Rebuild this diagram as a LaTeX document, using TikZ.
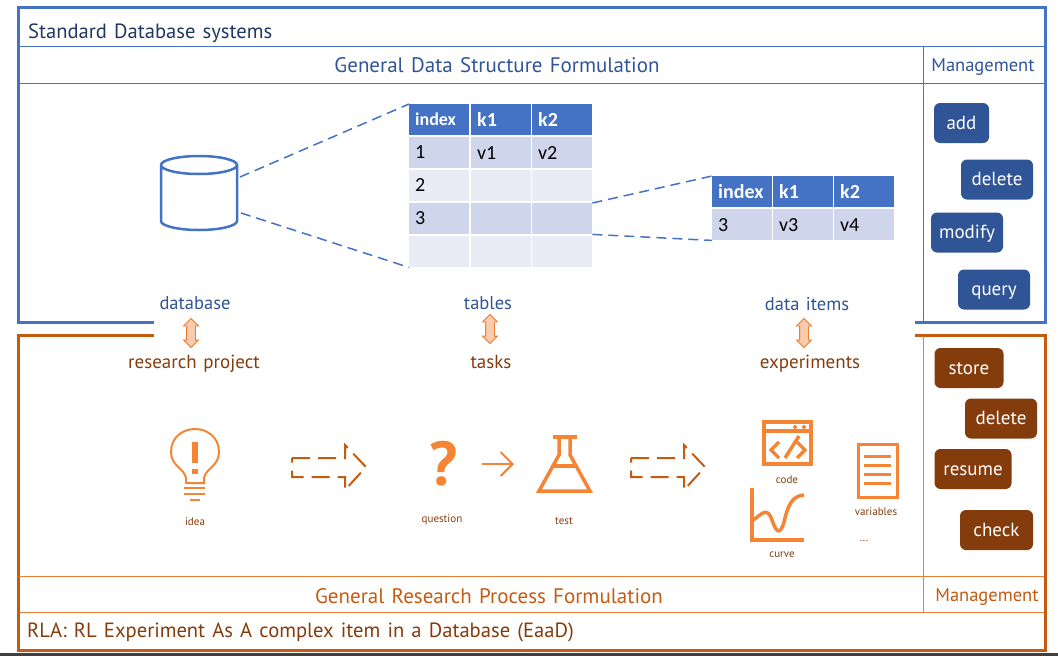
\documentclass[tikz,border=0pt]{standalone}
\usepackage{fontspec}
\setmainfont{PT Sans}[WordSpace=1.3]
\newfontfamily\cellfont{Carlito}
\usetikzlibrary{
	shapes.arrows,
	arrows.meta}
\definecolor{dbblue}{HTML}{4472C4}
\definecolor{dbnavy}{HTML}{2F5597}
\definecolor{dbdark}{HTML}{1F3864}
\definecolor{cellhi}{HTML}{CFD5EA}
\definecolor{celllo}{HTML}{E9EBF5}
\definecolor{rlrust}{HTML}{C55A11}
\definecolor{rlbrown}{HTML}{843C0C}
\definecolor{rlicon}{HTML}{F58534}
\definecolor{rlthin}{HTML}{ED7D31}
\tikzset{
    hdcell/.style={anchor=north west,fill=dbblue,text=white,font=\cellfont\bfseries\fontsize{20}{20}\selectfont,text width=48pt,inner xsep=6pt,inner ysep=0pt,minimum height=31pt},
    hicell/.style={anchor=north west,fill=cellhi,text=black,font=\cellfont\fontsize{20}{20}\selectfont,text width=48pt,inner xsep=6pt,inner ysep=0pt,minimum height=31pt},
    locell/.style={hicell,fill=celllo},
    dbbtn/.style={fill=dbnavy,text=white,rounded corners=6pt,font=\fontsize{19}{19}\selectfont,inner sep=0pt,text height=14pt,text depth=2pt,minimum height=40pt},
    rlbtn/.style={dbbtn,fill=rlbrown},
    dbtext/.style={text=dbnavy,font=\fontsize{18.5}{19}\selectfont,inner sep=0pt},
    rltext/.style={text=rlbrown,font=\fontsize{19}{19}\selectfont,inner sep=0pt},
    bigtext/.style={font=\fontsize{21}{21}\selectfont,inner sep=0pt},
    smalltext/.style={text=rlbrown,font=\fontsize{11}{11}\selectfont,inner sep=0pt},
    swaparrow/.style={double arrow,rotate=90,draw=rlthin,fill=rlthin!40,line width=.8pt,inner xsep=0pt,inner ysep=0pt,text height=8pt,text depth=0pt,minimum height=29pt,double arrow head extend=3pt},
    dashline/.style={dbblue,line width=1.5pt,dash pattern=on 10pt off 6pt},
    blockarrow/.style={rlrust,line width=2pt,dash pattern=on 18pt off 8pt,line join=miter},
    icon/.style={rlicon,line width=3.5pt}
}
\begin{document}
\begin{tikzpicture}[x=1pt,y=-1pt]
    \useasboundingbox (0,0) rectangle (1058,656);
    \fill [black!75] (0,653) rectangle (1058,656);

    % upper frame
    \draw [dbblue,line width=3pt] (154,322) -- (18,322) -- (18,7) -- (1045,7) -- (1045,322) -- (915,322);
    \draw [dbblue,line width=1pt] (19,46) -- (1044,46);
    \draw [dbblue,line width=1pt] (19,83) -- (1044,83);
    \draw [dbblue,line width=1pt] (923,46) -- (923,322);

    % lower frame
    \draw [rlrust,line width=3pt] (154,335) -- (18,335) -- (18,650) -- (1045,650) -- (1045,335) -- (915,335);
    \draw [rlthin,line width=1pt] (19,576) -- (1044,576);
    \draw [rlthin,line width=1pt] (19,612) -- (1044,612);
    \draw [rlthin,line width=1pt] (923,336) -- (923,612);

    \node (T0) [bigtext,font=\fontsize{20.6}{21}\selectfont,text=dbdark,anchor=west] at (28,33) {Standard Database systems};
    \node (T1) [bigtext,text=dbnavy] at (497,65) {General Data Structure Formulation};
    \node (M1) [dbtext] at (983,67) {Management};
    \node (T2) [bigtext,text=rlrust] at (489,596) {General Research Process Formulation};
    \node (M2) [text=rlrust,font=\fontsize{18.5}{19}\selectfont,inner sep=0pt] at (987,597) {Management};
    \node (T3) [bigtext,font=\fontsize{20.6}{21}\selectfont,text=rlbrown,anchor=west] at (27,632) {RLA: RL Experiment As A complex item in a Database (EaaD)};

    % database and tables
    \draw [dbblue,line width=2.5pt] (161,165) arc (180:0:38 and 9) arc (0:-180:38 and 9) -- (161,221) arc (180:0:38 and 9) -- (237,165);
    \coordinate (DB1) at (240,177);
    \coordinate (DB2) at (241,213);

    \node (A0) [hdcell,font=\cellfont\bfseries\fontsize{18}{18}\selectfont] at (409,104) {index};
    \node (A1) [hdcell] at (471,104) {k1};
    \node (A2) [hdcell] at (532,104) {k2};
    \node (B0) [hicell] at (409,137) {\raisebox{2pt}{1}};
    \node (B1) [hicell] at (471,137) {v1};
    \node (B2) [hicell] at (532,137) {v2};
    \node (C0) [locell] at (409,170) {\raisebox{2pt}{2}};
    \node (C1) [locell] at (471,170) {};
    \node (C2) [locell] at (532,170) {};
    \node (D0) [hicell] at (409,203) {\raisebox{2pt}{3}};
    \node (D1) [hicell] at (471,203) {};
    \node (D2) [hicell] at (532,203) {};
    \node (E0) [locell] at (409,236) {};
    \node (E1) [locell] at (471,236) {};
    \node (E2) [locell] at (532,236) {};

    \node (F0) [hdcell] at (712,176) {index};
    \node (F1) [hdcell] at (773,176) {k1};
    \node (F2) [hdcell] at (834,176) {k2};
    \node (G0) [hicell] at (712,209) {3};
    \node (G1) [hicell] at (773,209) {v3};
    \node (G2) [hicell] at (834,209) {v4};

    \draw [dashline] (DB1) to (A0.north west);
    \draw [dashline] (DB2) to (E0.south west);
    \draw [dashline] (D2.north east) to (F0.north west);
    \draw [dashline] (D2.south east) to (G0.south west);

    % buttons
    \node (add) [dbbtn,minimum width=55pt] at (961.5,123) {add};
    \node (del1) [dbbtn,minimum width=72pt] at (997,179.5) {delete};
    \node (mod) [dbbtn,minimum width=72pt] at (967,232.5) {modify};
    \node (qry) [dbbtn,minimum width=72pt] at (994,289.5) {query};
    \node (sto) [rlbtn,minimum width=69pt] at (969,368) {store};
    \node (del2) [rlbtn,minimum width=72pt] at (1001,418.5) {delete};
    \node (res) [rlbtn,minimum width=77pt] at (973,469) {resume};
    \node (chk) [rlbtn,minimum width=73pt] at (996.5,530) {check};

    % names on both sides
    \node (L1) [dbtext] at (195,303) {database};
    \node (L2) [dbtext] at (488,303) {tables};
    \node (L3) [dbtext] at (807,304) {data items};
    \node (S1) [swaparrow] at (191,333) {};
    \node (S2) [swaparrow] at (490,329) {};
    \node (S3) [swaparrow] at (804,333) {};
    \node (R1) [rltext] at (194,364) {research project};
    \node (R2) [rltext] at (491,362) {tasks};
    \node (R3) [rltext] at (810,364) {experiments};

    % idea
    \draw [icon,line width=2pt] (186,483) -- (186,478) .. controls (184,468) and (171,466) .. (171,452) .. controls (171,437) and (183,429) .. (195,429) .. controls (207,429) and (219,437) .. (219,452) .. controls (219,466) and (206,468) .. (204,478) -- (204,483) -- cycle;
    \fill [rlicon] (191.5,442) rectangle (197.5,463);
    \fill [rlicon] (191.5,469) rectangle (197.5,474);
    \draw [icon,line width=2pt] (184,488) -- (205,488);
    \draw [icon,line width=2pt] (184,494) -- (205,494);
    \draw [icon,line width=2pt] (190,500) -- (200,500);
    \node (idea) [smalltext] at (195,522) {idea};

    % first block arrow
    \draw [blockarrow] (292,458) -- (345,458) -- (345,445) -- (366,467) -- (345,490) -- (345,477) -- (292,477) -- (292,458);

    % question and test
    \node (ask) [text=rlicon,font=\bfseries\fontsize{62}{62}\selectfont,inner sep=0pt] at (444,464) {?};
    \node (question) [smalltext] at (442,520) {question};
    \coordinate (flask) at (482,464);
    \coordinate (flask2) at (514,464);
    \draw [-{Straight Barb[length=12pt,width=24pt]},rlicon,line width=2pt] (flask) to (flask2);
    \draw [icon,line join=miter] (559,437) -- (559,455) -- (539,491) -- (590,491) -- (570,455) -- (570,437);
    \draw [icon] (553,437) -- (577,437);
    \draw [icon] (553,466) -- (576,466);
    \node (test) [smalltext] at (564,521) {test};

    % second block arrow
    \draw [blockarrow] (631,458) -- (684,458) -- (684,445) -- (705,467) -- (684,490) -- (684,477) -- (631,477) -- (631,458);

    % experiment parts
    \draw [icon] (764,422) rectangle (811,464);
    \draw [icon] (764,431) -- (811,431);
    \fill [rlicon] (795,427) circle (2pt);
    \fill [rlicon] (804,427) circle (2pt);
    \draw [icon] (779,442) -- (771,450) -- (779,458);
    \draw [icon] (797,442) -- (805,450) -- (797,458);
    \draw [icon] (785,458) -- (799,436);
    \node (code) [smalltext] at (787,480) {code};

    \draw [icon] (752,488) -- (752,540) -- (804,540);
    \draw [icon] (752,521) .. controls (762,514) and (767,506) .. (772,520) .. controls (776,532) and (780,536) .. (784,522) .. controls (788,505) and (792,496) .. (804,495);
    \node (curve) [smalltext] at (782,555) {curve};

    \draw [icon,line width=3pt] (858,444) rectangle (897,497);
    \draw [icon,line width=3pt] (864,456) -- (891,456);
    \draw [icon,line width=3pt] (864,465) -- (891,465);
    \draw [icon,line width=3pt] (864,474) -- (891,474);
    \draw [icon,line width=3pt] (864,483) -- (891,483);
    \node (vars) [smalltext] at (876,512) {variables};
    \node (more) [smalltext] at (864,541) {...};
\end{tikzpicture}
\end{document}
